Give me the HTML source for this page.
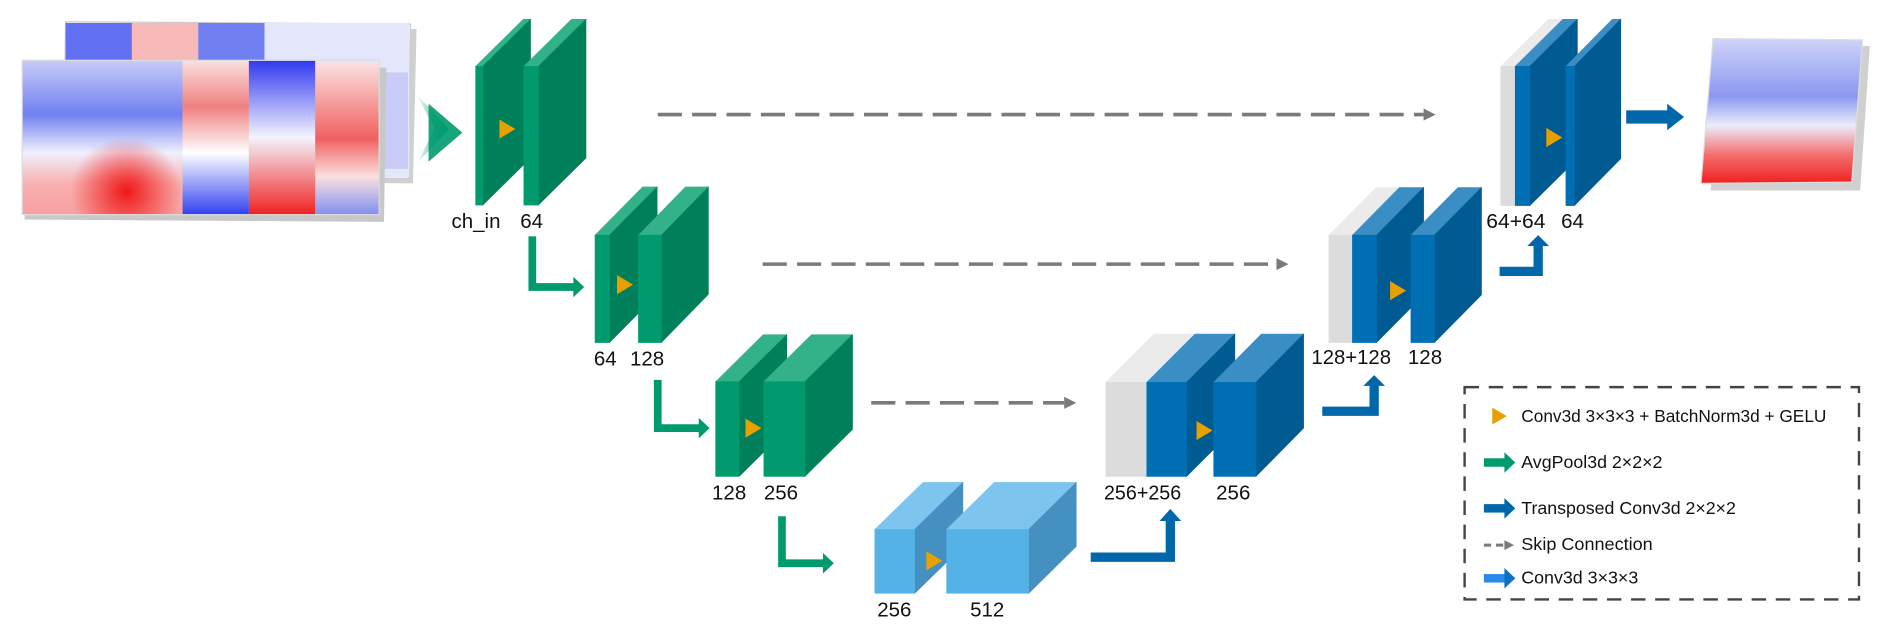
<!DOCTYPE html>
<html><head><meta charset="utf-8"><style>
html,body{margin:0;padding:0;background:#fff;}
svg{display:block;}
text{font-family:"Liberation Sans",sans-serif;}
</style></head><body>
<svg id="s" width="1892" height="638" viewBox="0 0 1568 529" xmlns="http://www.w3.org/2000/svg">
<defs>
<linearGradient id="gin" x1="0" x2="1" y1="0" y2="0"><stop offset="0" stop-color="#009a6e" stop-opacity="0"/><stop offset="1" stop-color="#009a6e"/></linearGradient>
<linearGradient id="p2" x1="0" y1="0" x2="0" y2="1"><stop offset="0" stop-color="#fbe0e0"/><stop offset="0.3" stop-color="#f08080"/><stop offset="0.6" stop-color="#fff"/><stop offset="1" stop-color="#3040f0"/></linearGradient>
<linearGradient id="p3" x1="0" y1="0" x2="0" y2="1"><stop offset="0" stop-color="#3038f0"/><stop offset="0.5" stop-color="#f4f4fc"/><stop offset="1" stop-color="#f02020"/></linearGradient>
<linearGradient id="p4" x1="0" y1="0" x2="0" y2="1"><stop offset="0" stop-color="#fbe0e0"/><stop offset="0.5" stop-color="#f06060"/><stop offset="0.75" stop-color="#fae0e0"/><stop offset="1" stop-color="#8090f0"/></linearGradient>
<radialGradient id="p1r" cx="0.65" cy="0.85" r="0.35"><stop offset="0" stop-color="#f01818"/><stop offset="1" stop-color="#f01818" stop-opacity="0"/></radialGradient>
<linearGradient id="p1" x1="0" y1="0" x2="0" y2="1"><stop offset="0" stop-color="#c8ccf8"/><stop offset="0.35" stop-color="#7080f0"/><stop offset="0.6" stop-color="#f0f0fc"/><stop offset="0.8" stop-color="#f8b0b0"/><stop offset="1" stop-color="#f8a0a0"/></linearGradient>
<linearGradient id="out" x1="0" y1="0" x2="0" y2="1"><stop offset="0" stop-color="#d0d4f8"/><stop offset="0.4" stop-color="#8a98f0"/><stop offset="0.6" stop-color="#ececfa"/><stop offset="0.8" stop-color="#f47070"/><stop offset="1" stop-color="#f02020"/></linearGradient>
</defs>

<!-- input images -->
<polygon points="60,22 345,24 342,152 57,150" fill="#d0d0d0"/>
<polygon points="54,18 340,20 338,148 52,146" fill="#fff" stroke="#ccc"/>
<rect x="54" y="19" width="55" height="40" fill="#6070f0"/>
<rect x="109" y="19" width="55" height="40" fill="#f7b8b8"/>
<rect x="164" y="19" width="55" height="40" fill="#7080f0"/>
<rect x="219" y="19" width="120" height="128" fill="#e4e6fb"/>
<rect x="300" y="60" width="38" height="80" fill="#c8ccf6"/>
<polygon points="22,54 320,56 318,184 20,182" fill="#c8c8c8"/>
<rect x="18" y="50" width="133" height="128" fill="url(#p1)"/>
<rect x="18" y="50" width="133" height="128" fill="url(#p1r)"/>
<rect x="151" y="50" width="55" height="128" fill="url(#p2)"/>
<rect x="206" y="50" width="55" height="128" fill="url(#p3)"/>
<rect x="261" y="52" width="53" height="126" fill="url(#p4)"/>
<rect x="18" y="50" width="296" height="128" fill="none" stroke="#ddd"/>
<polygon points="345,78 372,107 345,136 360,107" fill="url(#gin)"/>
<polygon points="355,86 383,110 355,134" fill="#009a6e" opacity="0.9"/>

<g id="boxes"></g>

<!-- skip connections -->
<g stroke="#7a7a7a" stroke-width="3" stroke-dasharray="20,8.5" fill="none">
<line x1="545" y1="95" x2="1180" y2="95"/>
<line x1="632" y1="219" x2="1058" y2="219"/>
<line x1="722" y1="334" x2="882" y2="334"/>
</g>
<g fill="#7a7a7a">
<polygon points="1180,90 1190,95 1180,100"/>
<polygon points="1058,214 1068,219 1058,224"/>
<polygon points="882,329 892,334 882,339"/>
</g>

<!-- green arrows -->
<g fill="none" stroke="#009a6e" stroke-width="6.4">
<polyline points="441,196 441,238 476,238"/>
<polyline points="545,315 545,355 580,355"/>
<polyline points="648,428 648,467 683,467"/>
</g>
<g fill="#009a6e">
<polygon points="475,229.5 484,238 475,246.5"/>
<polygon points="579,346.5 588,355 579,363.5"/>
<polygon points="682,458.5 691,467 682,475.5"/>
</g>
<!-- blue arrows -->
<g fill="none" stroke="#0068aa" stroke-width="7.7">
<polyline points="904,462 970,462 970,430"/>
<polyline points="1096,341 1139,341 1139,318"/>
<polyline points="1243,225 1275,225 1275,202"/>
</g>
<rect x="1348" y="91.5" width="35" height="11" fill="#0068aa"/>
<g fill="#0068aa">
<polygon points="961,432 970,422 979,432"/>
<polygon points="1130,320 1139,311 1148,320"/>
<polygon points="1266,204 1275,195 1284,204"/>
<polygon points="1382,86 1396,97 1382,108"/>
</g>

<!-- output image -->
<polygon points="1427,38 1550,38 1542,158 1418,158" fill="#d0d0d0"/>
<polygon points="1420,32 1544,33 1535,151 1410,152" fill="url(#out)" stroke="#ddd"/>

<!-- labels -->
<g font-size="17" fill="#111">
<text x="374" y="189">ch_in</text><text x="431" y="189">64</text>
<text x="492" y="303">64</text><text x="522" y="303">128</text>
<text x="590" y="414">128</text><text x="633" y="414">256</text>
<text x="727" y="511">256</text><text x="804" y="511">512</text>
<text x="915" y="414" textLength="64" lengthAdjust="spacingAndGlyphs">256+256</text><text x="1008" y="414">256</text>
<text x="1087" y="302" textLength="66" lengthAdjust="spacingAndGlyphs">128+128</text><text x="1167" y="302">128</text>
<text x="1232" y="189" textLength="49" lengthAdjust="spacingAndGlyphs">64+64</text><text x="1294" y="189">64</text>
</g>

<!-- legend -->
<rect x="1214" y="321" width="327" height="176" fill="none" stroke="#444" stroke-width="2" stroke-dasharray="12,8"/>
<polygon points="1237,338 1249,345 1237,352" fill="#e8a000"/>
<g font-size="14.5" fill="#111">
<text x="1261" y="350" textLength="253" lengthAdjust="spacingAndGlyphs">Conv3d 3×3×3 + BatchNorm3d + GELU</text>
<text x="1261" y="388" textLength="117" lengthAdjust="spacingAndGlyphs">AvgPool3d 2×2×2</text>
<text x="1261" y="426" textLength="178" lengthAdjust="spacingAndGlyphs">Transposed Conv3d 2×2×2</text>
<text x="1261" y="456" textLength="109" lengthAdjust="spacingAndGlyphs">Skip Connection</text>
<text x="1261" y="484" textLength="97" lengthAdjust="spacingAndGlyphs">Conv3d 3×3×3</text>
</g>
<rect x="1230" y="380" width="18" height="7" fill="#009a6e"/><polygon points="1247,375 1256,383.5 1247,392" fill="#009a6e"/>
<rect x="1230" y="418" width="18" height="7" fill="#0068aa"/><polygon points="1247,413 1256,421.5 1247,430" fill="#0068aa"/>
<line x1="1230" y1="452" x2="1248" y2="452" stroke="#7a7a7a" stroke-width="2.5" stroke-dasharray="6,4"/><polygon points="1247,448 1255,452 1247,456" fill="#7a7a7a"/>
<rect x="1230" y="476" width="18" height="7" fill="#2a88e8"/><polygon points="1247,471 1256,479.5 1247,488" fill="#1070c0"/>
</svg>
<script>
var g=document.getElementById('boxes'),NS='http://www.w3.org/2000/svg';
function poly(p,f){var e=document.createElementNS(NS,'polygon');e.setAttribute('points',p.map(function(a){return a.join(',')}).join(' '));e.setAttribute('fill',f);e.setAttribute('stroke',f);e.setAttribute('stroke-width','0.5');g.appendChild(e);}
var G=['#009a6e','#33b28a','#00805a'],B=['#006fb3','#3a8ec3','#005b92'],L=['#55b2e6','#7dc4ee','#4490c0'],Y=['#dcdcdc','#ebebeb','#cfcfcf'];
function box(x,y,w,h,dx,dy,c){poly([[x,y],[x+dx,y-dy],[x+w+dx,y-dy],[x+w,y]],c[1]);poly([[x+w,y],[x+w+dx,y-dy],[x+w+dx,y+h-dy],[x+w,y+h]],c[2]);poly([[x,y],[x+w,y],[x+w,y+h],[x,y+h]],c[0]);}
function tri(x,y){poly([[x,y-7.5],[x+12.5,y],[x,y+7.5]],'#e8a000');}
box(394,55,6,115,39.5,39,G);tri(414,107);box(434,55,12,115,39.5,39,G);
box(493,195,12,89,39.5,40,G);tri(511.5,236);box(529,195,19,89,39,40,G);
box(593,316.5,19.5,78.5,39.5,39,G);tri(618,355);box(633,316.5,34,78.5,39.5,39,G);
box(725,439,33,53,40,39,L);tri(768,465);box(784.5,439,68,53,39.5,39,L);
box(916.5,317,34,78,40,40,Y);box(950.5,317,33,78,40,40,B);tri(992,357);box(1006,317,35,78,39.5,40,B);
box(1101.5,195,19.5,89,39,39.5,Y);box(1121,195,20,89,39,39.5,B);tri(1152.5,241);box(1169.5,195,19.5,89,39,39.5,B);
box(1244,55,12,115.5,39.5,39,Y);box(1256,55,12,115.5,39.5,39,B);tri(1282,114);box(1298,55,7,115.5,38.5,39,B);
</script>
</body></html>
